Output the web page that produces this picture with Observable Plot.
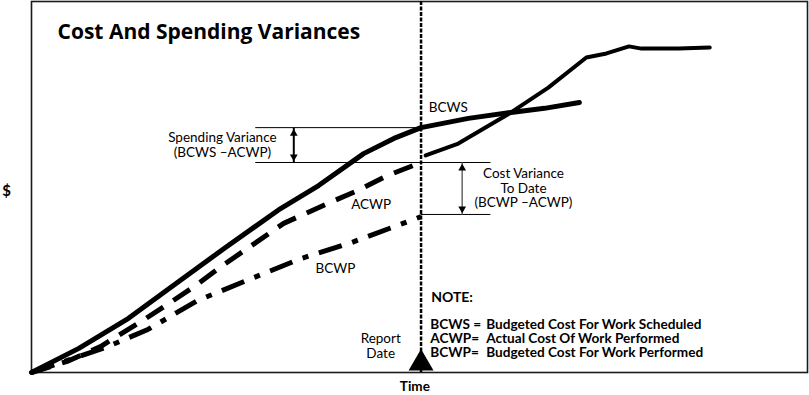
<!DOCTYPE html>
<html>
<head>
<meta charset="utf-8">
<script src="https://cdn.jsdelivr.net/npm/d3@7"></script>
<script src="https://cdn.jsdelivr.net/npm/@observablehq/plot@0.6"></script>
<style>
  html, body { margin: 0; padding: 0; background: #fff; }
  #chart svg { display: block; }
</style>
</head>
<body>
<div id="chart"></div>
<script>
// ---- data (time units 0..100 across the frame, $ units 0..100 up the frame)
const reportDate = 50.2;

const bcwsT = [0, 6.1, 12.5, 17.7, 25.0, 32.1, 37.0, 42.8, 46.7, 50.2, 56.3, 61.8, 66.1, 70.6];
const bcwsV = [0, 6.5, 14.6, 22.6, 33.7, 44.2, 50.4, 59.0, 63.1, 66.0, 68.5, 70.1, 71.2, 72.8];

const trendT = [50.8, 55.0, 61.8, 66.6, 71.5, 74.1, 77.0, 78.6, 83.4, 87.4];
const trendV = [58.5, 61.7, 70.1, 76.8, 84.9, 86.0, 87.9, 87.3, 87.3, 87.6];

const acwpT = [0, 4.6, 8.9, 14.1, 17.7, 21.2, 24.6, 32.5, 38.2, 42.1, 45.9, 50.2];
const acwpV = [0, 3.0, 7.0, 13.7, 18.6, 23.5, 28.8, 40.2, 45.6, 49.1, 53.1, 56.6];

const bcwpT = [0, 7.2, 9.5, 15.0, 21.4, 28.3, 34.7, 41.2, 50.2];
const bcwpV = [0, 5.1, 6.7, 11.6, 19.4, 25.3, 30.7, 35.0, 42.0];

// variance reference levels
const spendLevels = [66.0, 56.6];
const spendStart = 28.9;
const spendArrowX = 33.8;
const costLevels = [56.6, 42.6];
const costEnd = 59.2;
const costArrowX = 55.5;

// labels
const titleText = "Cost And Spending Variances";
const seriesLabels = ["BCWS", "ACWP", "BCWP"];
const seriesLabelX = [51.2, 41.2, 36.6];
const seriesLabelY = [70.1, 44.2, 26.7];
const noteAbbr = ["BCWS =", "ACWP=", "BCWP="];
const noteDefs = ["Budgeted Cost For Work Scheduled", "Actual Cost Of Work Performed", "Budgeted Cost For Work Performed"];

const zip = (t, v) => t.map((d, i) => ({t: d, v: v[i]}));
const bcws = zip(bcwsT, bcwsV);
const trend = zip(trendT, trendV);
const acwp = zip(acwpT, acwpV);
const bcwp = zip(bcwpT, bcwpV);
const labels = seriesLabels.map((s, i) => ({s, x: seriesLabelX[i], y: seriesLabelY[i]}));

const font = "Lato, 'Open Sans', sans-serif";

const chart = Plot.plot({
  width: 809,
  height: 395,
  marginLeft: 31,
  marginRight: 2,
  marginTop: 1,
  marginBottom: 23,
  x: {domain: [0, 100], axis: null},
  y: {domain: [0, 100], axis: null},
  style: {fontFamily: font, color: "black", background: "white"},
  marks: [
    Plot.frame({stroke: "#1a1a1a", strokeWidth: 1.6}),
    // report date dashed line
    Plot.ruleX([reportDate], {stroke: "black", strokeWidth: 2.5, strokeDasharray: "4,1.5"}),
    // variance reference lines
    Plot.ruleY(spendLevels, {x1: spendStart, x2: reportDate, stroke: "black", strokeWidth: 1}),
    Plot.ruleY(costLevels, {x1: reportDate, x2: costEnd, stroke: "black", strokeWidth: 1}),
    // series
    Plot.line(bcwp, {x: "t", y: "v", stroke: "black", strokeWidth: 5, strokeDasharray: "24,11,6,11", strokeLinecap: "butt"}),
    Plot.line(acwp, {x: "t", y: "v", stroke: "black", strokeWidth: 5, strokeDasharray: "20,12", strokeLinecap: "butt"}),
    Plot.line(trend, {x: "t", y: "v", stroke: "black", strokeWidth: 4, strokeLinejoin: "round"}),
    Plot.line(bcws, {x: "t", y: "v", stroke: "black", strokeWidth: 5, strokeLinejoin: "round"}),
    // spending variance arrow
    Plot.link([0], {x1: spendArrowX, x2: spendArrowX, y1: spendLevels[1], y2: spendLevels[0], stroke: "black", strokeWidth: 2}),
    Plot.dot([0], {x: spendArrowX, y: spendLevels[0], symbol: "triangle2", r: 3.7, fill: "black", dy: 5.8}),
    Plot.dot([0], {x: spendArrowX, y: spendLevels[1], symbol: "triangle2", r: 3.7, fill: "black", rotate: 180, dy: -5.8}),
    // cost variance arrow
    Plot.link([0], {x1: costArrowX, x2: costArrowX, y1: costLevels[1], y2: costLevels[0], stroke: "#666", strokeWidth: 1.5}),
    Plot.dot([0], {x: costArrowX, y: costLevels[0], symbol: "triangle2", r: 3.7, fill: "black", dy: 5.8}),
    Plot.dot([0], {x: costArrowX, y: costLevels[1], symbol: "triangle2", r: 3.7, fill: "black", rotate: 180, dy: -5.8}),
    // report date marker
    Plot.dot([reportDate], {x: d => d, y: 0, symbol: "triangle2", r: 11.9, fill: "black", dy: -9.2}),
    // title
    Plot.text([titleText], {x: 3.35, y: 89.8, text: d => d, textAnchor: "start", lineAnchor: "bottom", fontSize: 21, fontWeight: "bold", fontFamily: "'Open Sans', Lato, sans-serif"}),
    // series labels
    Plot.text(labels, {x: "x", y: "y", text: "s", textAnchor: "start", lineAnchor: "bottom", fontSize: 13.5}),
    // variance texts
    Plot.text(["Spending Variance\n(BCWS \u2013ACWP)"], {x: 24.6, y: 58.0, text: d => d, textAnchor: "middle", lineAnchor: "bottom", fontSize: 13.5, lineHeight: 1.1}),
    Plot.text(["Cost Variance\nTo Date\n(BCWP \u2013ACWP)"], {x: 63.4, y: 44.5, text: d => d, textAnchor: "middle", lineAnchor: "bottom", fontSize: 13.5, lineHeight: 1.08}),
    Plot.text(["Report\nDate"], {x: 45.0, y: 4.0, text: d => d, textAnchor: "middle", lineAnchor: "bottom", fontSize: 13.5, lineHeight: 1.1}),
    // note
    Plot.text(["NOTE:"], {x: 51.5, y: 19.1, text: d => d, textAnchor: "start", lineAnchor: "bottom", fontSize: 14, fontWeight: "bold"}),
    Plot.text([noteAbbr.join("\n")], {x: 51.4, y: 4.3, text: d => d, textAnchor: "start", lineAnchor: "bottom", fontSize: 13.6, lineHeight: 1.0, fontWeight: "bold"}),
    Plot.text([noteDefs.join("\n")], {x: 58.6, y: 4.3, text: d => d, textAnchor: "start", lineAnchor: "bottom", fontSize: 13.6, lineHeight: 1.0, fontWeight: "bold"}),
    // axis labels
    Plot.text(["$"], {x: -3.2, y: 49, text: d => d, textAnchor: "middle", lineAnchor: "middle", fontSize: 15, fontWeight: "bold"}),
    Plot.text(["Time"], {x: 49.4, y: -5.0, text: d => d, textAnchor: "middle", lineAnchor: "bottom", fontSize: 13.5, fontWeight: "bold"})
  ]
});
document.getElementById("chart").appendChild(chart);
</script>
</body>
</html>
